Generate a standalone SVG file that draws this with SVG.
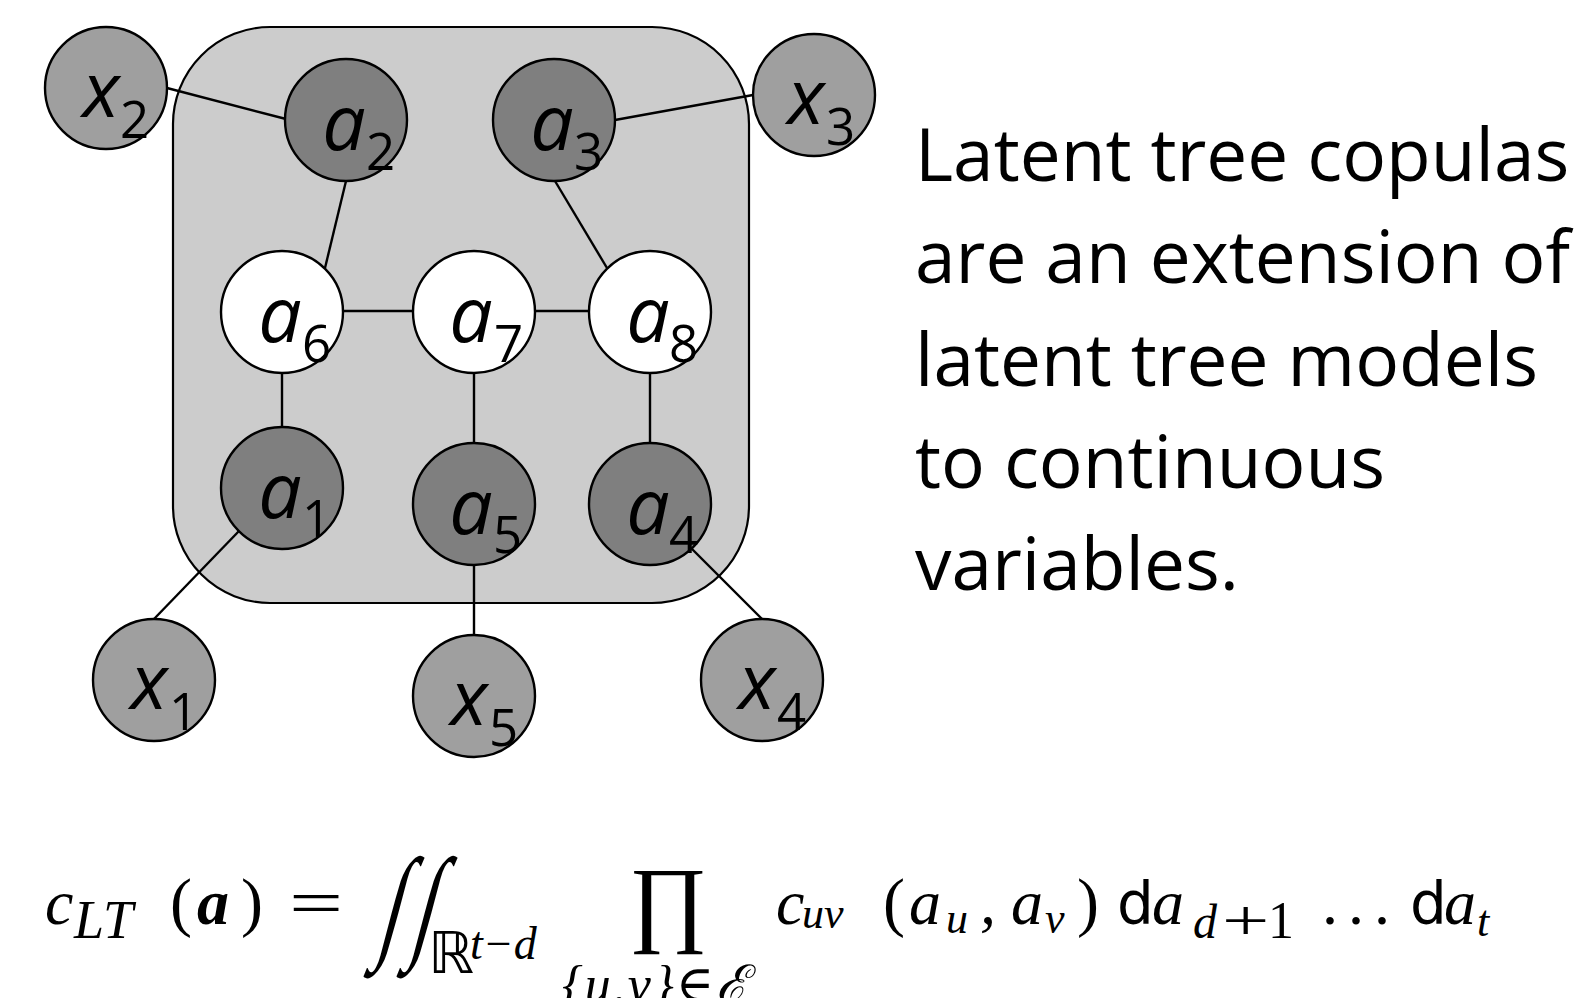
<svg xmlns="http://www.w3.org/2000/svg" width="1581" height="998" viewBox="0 0 1581 998">
<style>
.plate{fill:#cccccc;stroke:#000;stroke-width:2.2}
.edge{stroke:#000;stroke-width:2.4;fill:none}
.node{stroke:#000;stroke-width:2.4}
.obs{fill:#7f7f7f}
.ext{fill:#9f9f9f}
.lat{fill:#ffffff}
.lbl{font-family:"Open Sans","Noto Sans","DejaVu Sans",sans-serif;font-style:italic;font-size:77px;fill:#000;text-anchor:middle}
.sub{font-family:"Open Sans","Noto Sans","DejaVu Sans",sans-serif;font-size:51px;fill:#000}
.body{font-family:"Open Sans","Noto Sans","DejaVu Sans",sans-serif;font-size:73px;fill:#000}
.m{font-family:"Liberation Serif","DejaVu Serif",serif;fill:#000}
.mi{font-family:"Liberation Serif","DejaVu Serif",serif;font-style:italic;fill:#000}
.ms{font-family:"DejaVu Sans","Liberation Sans",sans-serif;fill:#000}
</style>
<rect width="1581" height="998" fill="#ffffff"/>
<g id="plate"><rect class="plate" x="173" y="27" width="576" height="576" rx="97" ry="97"/></g>
<g id="connectors">
<line class="edge" x1="167" y1="88" x2="286" y2="119"/>
<line class="edge" x1="346" y1="181" x2="325" y2="268"/>
<line class="edge" x1="615" y1="120" x2="753" y2="95"/>
<line class="edge" x1="555" y1="181" x2="607" y2="268"/>
<line class="edge" x1="343" y1="311" x2="414" y2="311"/>
<line class="edge" x1="535" y1="311" x2="590" y2="311"/>
<line class="edge" x1="282" y1="373" x2="282" y2="428"/>
<line class="edge" x1="474" y1="373" x2="474" y2="443"/>
<line class="edge" x1="650" y1="373" x2="650" y2="443"/>
<line class="edge" x1="239" y1="531" x2="154" y2="619"/>
<line class="edge" x1="474" y1="565" x2="474" y2="635"/>
<line class="edge" x1="690" y1="547" x2="762" y2="619"/>
</g>
<g id="x2"><circle class="node ext" cx="106" cy="88" r="61"/><text class="lbl" x="101" y="117">x</text><text class="sub" x="120" y="138">2</text></g>
<g id="a2"><circle class="node obs" cx="346" cy="120" r="61"/><text class="lbl" x="344" y="150">a</text><text class="sub" x="366" y="170">2</text></g>
<g id="a3"><circle class="node obs" cx="554" cy="120" r="61"/><text class="lbl" x="552" y="150">a</text><text class="sub" x="574" y="170">3</text></g>
<g id="x3"><circle class="node ext" cx="814" cy="95" r="61"/><text class="lbl" x="806" y="124">x</text><text class="sub" x="826" y="145">3</text></g>
<g id="a6"><circle class="node lat" cx="282" cy="312" r="61"/><text class="lbl" x="280" y="342">a</text><text class="sub" x="302" y="362">6</text></g>
<g id="a7"><circle class="node lat" cx="474" cy="312" r="61"/><text class="lbl" x="471" y="342">a</text><text class="sub" x="494" y="362">7</text></g>
<g id="a8"><circle class="node lat" cx="650" cy="312" r="61"/><text class="lbl" x="648" y="342">a</text><text class="sub" x="669" y="362">8</text></g>
<g id="a1"><circle class="node obs" cx="282" cy="488" r="61"/><text class="lbl" x="280" y="518">a</text><text class="sub" x="302" y="537">1</text></g>
<g id="a5"><circle class="node obs" cx="474" cy="504" r="61"/><text class="lbl" x="471" y="534">a</text><text class="sub" x="493" y="553">5</text></g>
<g id="a4"><circle class="node obs" cx="650" cy="504" r="61"/><text class="lbl" x="648" y="534">a</text><text class="sub" x="669" y="553">4</text></g>
<g id="x1"><circle class="node ext" cx="154" cy="680" r="61"/><text class="lbl" x="149" y="709">x</text><text class="sub" x="169" y="730">1</text></g>
<g id="x5"><circle class="node ext" cx="474" cy="696" r="61"/><text class="lbl" x="469" y="725">x</text><text class="sub" x="489" y="746">5</text></g>
<g id="x4"><circle class="node ext" cx="762" cy="680" r="61"/><text class="lbl" x="757" y="709">x</text><text class="sub" x="777" y="730">4</text></g>
<g id="description">
<text class="body" x="915" y="181">Latent tree copulas</text>
<text class="body" x="915" y="283">are an extension of</text>
<text class="body" x="915" y="386">latent tree models</text>
<text class="body" x="915" y="488">to continuous</text>
<text class="body" x="915" y="590">variables.</text>
</g>
<g id="formula">
<text class="mi" x="45" y="924" font-size="64">c</text>
<text class="mi" x="74" y="938" font-size="54">LT</text>
<text class="m" x="170" y="924" font-size="66">(</text>
<text class="mi" x="197" y="924" font-size="64" font-weight="bold">a</text>
<text class="m" x="241" y="924" font-size="66">)</text>
<text class="m" font-size="64" transform="translate(289,924) scale(1.5,1)">=</text>
<text class="m" font-size="125" transform="translate(376,945) skewX(-15) scale(0.62,1)">∫</text>
<text class="m" font-size="125" transform="translate(409,945) skewX(-15) scale(0.62,1)">∫</text>
<text class="ms" x="428" y="973" font-size="58">ℝ</text>
<text class="mi" x="470" y="959" font-size="46">t−d</text>
<text class="m" x="629" y="934" font-size="96">∏</text>
<text class="mi" x="562" y="1002" font-size="52" letter-spacing="2">{u,v}∈ℰ</text>
<text class="mi" x="776" y="924" font-size="64">c</text>
<text class="mi" x="802" y="928" font-size="44">uv</text>
<text class="m" x="883" y="924" font-size="66">(</text>
<text class="mi" x="909" y="924" font-size="64">a</text>
<text class="mi" x="946" y="933" font-size="44">u</text>
<text class="mi" x="980" y="924" font-size="64">,</text>
<text class="mi" x="1011" y="924" font-size="64">a</text>
<text class="mi" x="1045" y="933" font-size="44">v</text>
<text class="m" x="1077" y="924" font-size="66">)</text>
<text class="ms" x="1117" y="924" font-size="58">d</text>
<text class="mi" x="1152" y="924" font-size="64">a</text>
<text class="mi" x="1193" y="938" font-size="48">d</text>
<text class="m" font-size="56" transform="translate(1222,940) scale(1.5,1)">+</text>
<text class="m" x="1268" y="938" font-size="52">1</text>
<text class="m" x="1322" y="924" font-size="64" letter-spacing="10">...</text>
<text class="ms" x="1410" y="924" font-size="58">d</text>
<text class="mi" x="1444" y="924" font-size="64">a</text>
<text class="mi" x="1477" y="936" font-size="44">t</text>
</g>
</svg>
